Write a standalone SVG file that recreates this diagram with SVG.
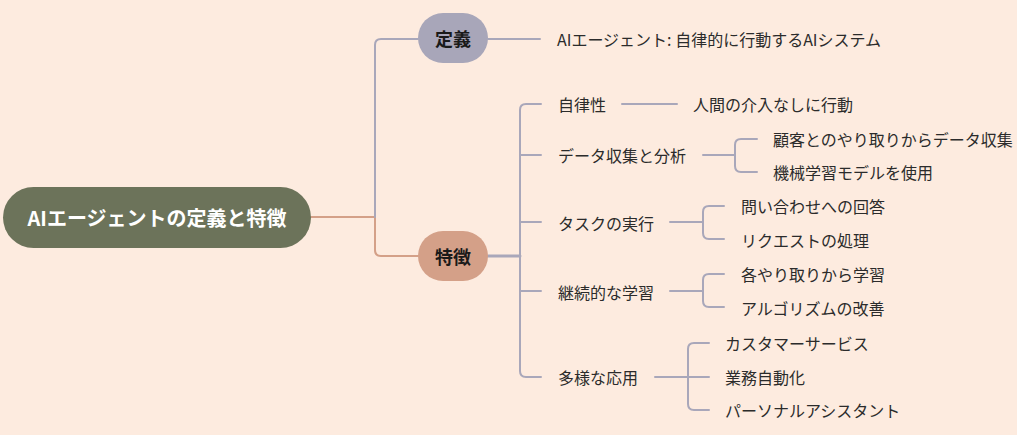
<svg xmlns="http://www.w3.org/2000/svg" width="1017" height="435" viewBox="0 0 1017 435">
<style>
text{font-family:"Noto Sans CJK JP","Noto Sans",sans-serif;dominant-baseline:central;fill:#2b2b2b}
.t{font-size:16px}
.b{font-weight:bold;fill:#1a1a1a}
.lv{fill:none;stroke:#a9a7ba;stroke-width:2;stroke-linecap:round}
.tn{fill:none;stroke:#d4a088;stroke-width:2;stroke-linecap:round}
</style>
<rect width="1017" height="435" fill="#fdebdf"/>
<g id="connectors">
<path class="tn" d="M311 217 H375 V250 Q375 256 381 256 H418"/>
<path class="lv" d="M375 217 V45 Q375 39 381 39 H418"/>
<path class="lv" d="M488 39 H540"/>
<path class="lv" d="M488 256 H520" style="stroke-width:3"/>
<path class="lv" d="M541 104 H526 Q520 104 520 110 V371 Q520 377 526 377 H541"/>
<path class="lv" d="M520 155 H541 M520 222 H541 M520 291 H541"/>
<path class="lv" d="M622 104 H677"/>
<path class="lv" d="M703 155 H735 M757 139 H741 Q735 139 735 145 V166 Q735 172 741 172 H757"/>
<path class="lv" d="M670 222 H703 M724 206 H709 Q703 206 703 212 V233 Q703 239 709 239 H724"/>
<path class="lv" d="M670 291 H703 M724 274 H709 Q703 274 703 280 V301 Q703 307 709 307 H724"/>
<path class="lv" d="M655 377 H709 M709 343 H694 Q688 343 688 349 V404 Q688 410 694 410 H709"/>
</g>
<g id="root">
<rect x="3" y="187" width="308" height="61" rx="30.5" fill="#6c735a"/>
<text x="157" y="217" text-anchor="middle" style="font-size:20px;font-weight:bold;fill:#ffffff">AIエージェントの定義と特徴</text>
</g>
<g id="def">
<rect x="418" y="13" width="70" height="50" rx="25" fill="#a8a6b9"/>
<text class="b" x="453" y="38" text-anchor="middle" style="font-size:18px">定義</text>
</g>
<g id="def-text"><text class="t" x="557" y="39">AIエージェント: 自律的に行動するAIシステム</text></g>
<g id="feat">
<rect x="418" y="231" width="70" height="50" rx="25" fill="#d4a088"/>
<text class="b" x="453" y="256" text-anchor="middle" style="font-size:18px">特徴</text>
</g>
<g id="f1"><text class="t" x="558" y="104">自律性</text></g>
<g id="f1a"><text class="t" x="693" y="104">人間の介入なしに行動</text></g>
<g id="f2"><text class="t" x="558" y="155">データ収集と分析</text></g>
<g id="f2a"><text class="t" x="773" y="139">顧客とのやり取りからデータ収集</text></g>
<g id="f2b"><text class="t" x="773" y="172">機械学習モデルを使用</text></g>
<g id="f3"><text class="t" x="558" y="223">タスクの実行</text></g>
<g id="f3a"><text class="t" x="741" y="206">問い合わせへの回答</text></g>
<g id="f3b"><text class="t" x="741" y="240">リクエストの処理</text></g>
<g id="f4"><text class="t" x="558" y="292">継続的な学習</text></g>
<g id="f4a"><text class="t" x="741" y="274">各やり取りから学習</text></g>
<g id="f4b"><text class="t" x="741" y="308">アルゴリズムの改善</text></g>
<g id="f5"><text class="t" x="558" y="377">多様な応用</text></g>
<g id="f5a"><text class="t" x="725" y="343">カスタマーサービス</text></g>
<g id="f5b"><text class="t" x="725" y="377">業務自動化</text></g>
<g id="f5c"><text class="t" x="725" y="410">パーソナルアシスタント</text></g>
</svg>
